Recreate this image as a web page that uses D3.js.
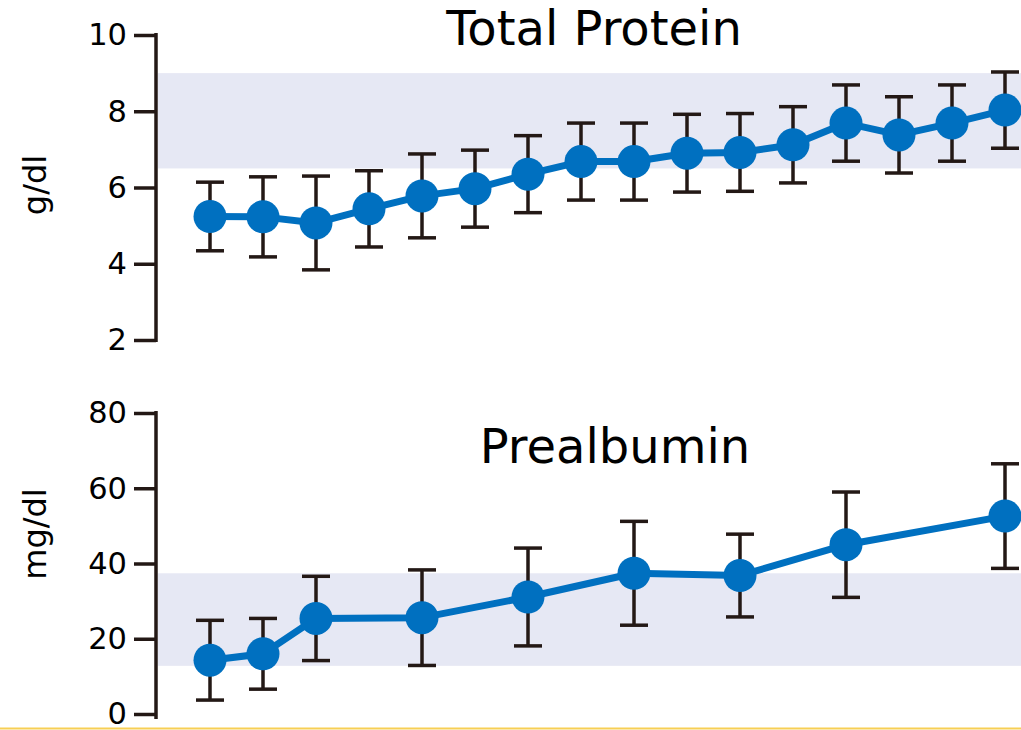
<!DOCTYPE html>
<html>
<head>
<meta charset="utf-8">
<script src="https://cdn.jsdelivr.net/npm/d3@7"></script>
<style>
  html, body { margin: 0; padding: 0; background: #fff; }
  svg { display: block; font-family: "DejaVu Sans", Verdana, sans-serif; }
</style>
</head>
<body>
<svg id="chart" width="1021" height="730"></svg>
<script>
// Measurement time points (shared horizontal slots)
const proteinPoints = [1, 2, 3, 4, 5, 6, 7, 8, 9, 10, 11, 12, 13, 14, 15, 16];
const proteinMean   = [5.24, 5.23, 5.07, 5.44, 5.78, 5.97, 6.35, 6.68, 6.68, 6.9, 6.92, 7.12, 7.69, 7.38, 7.69, 8.03];
const proteinSD     = [0.9, 1.05, 1.23, 1.0, 1.1, 1.01, 1.01, 1.01, 1.01, 1.02, 1.02, 1.0, 1.0, 1.0, 1.0, 1.0];
const proteinRange  = [6.5, 9.0];
const proteinTicks  = [2, 4, 6, 8, 10];

const prealbPoints = [1, 2, 3, 5, 7, 9, 11, 13, 16];
const prealbMean   = [14.3, 16.0, 25.4, 25.6, 31.1, 37.4, 36.8, 45.0, 52.6];
const prealbSD     = [10.6, 9.4, 11.2, 12.7, 13.0, 13.8, 11.0, 14.0, 13.9];
const prealbRange  = [12.8, 37.4];
const prealbTicks  = [0, 20, 40, 60, 80];

const INK = "#231815";
const BLUE = "#0070c0";
const BAND = "#e6e8f4";

const svg = d3.select("#chart");
const W = 1021;

const x = d3.scaleLinear().domain([1, 16]).range([210, 1005]);
const axisX = 156;

function panel(cfg) {
  const g = svg.append("g");
  const y = d3.scaleLinear().domain(cfg.domain).range(cfg.range);

  // reference range band
  g.append("rect")
    .attr("x", axisX + 2)
    .attr("width", W - axisX - 2)
    .attr("y", y(cfg.band[1]))
    .attr("height", y(cfg.band[0]) - y(cfg.band[1]))
    .attr("fill", BAND);

  // y axis
  const axis = d3.axisLeft(y)
    .tickValues(cfg.ticks)
    .tickSize(22)
    .tickSizeOuter(0)
    .tickPadding(7);
  const ag = g.append("g")
    .attr("transform", `translate(${axisX},0)`)
    .call(axis);
  ag.select(".domain").remove();
  ag.selectAll(".tick line").attr("stroke", INK).attr("stroke-width", 3.5);
  ag.selectAll(".tick text")
    .attr("fill", "#000")
    .attr("font-size", 30.5)
    .attr("font-family", "DejaVu Sans, Verdana, sans-serif");
  ag.append("line")
    .attr("x1", 0).attr("x2", 0)
    .attr("y1", y(cfg.domain[1]) - 2)
    .attr("y2", y(cfg.domain[0]) + cfg.axisExtra)
    .attr("stroke", INK)
    .attr("stroke-width", 3.5);

  // unit label
  g.append("text")
    .attr("transform", `translate(${46},${cfg.unitY}) rotate(-90)`)
    .attr("text-anchor", "middle")
    .attr("font-size", 32)
    .attr("fill", "#000")
    .text(cfg.unit);

  // title
  g.append("text")
    .attr("x", cfg.titleX)
    .attr("y", cfg.titleY)
    .attr("text-anchor", "middle")
    .attr("font-size", 48)
    .attr("fill", "#000")
    .text(cfg.title);

  const data = cfg.pts.map((p, i) => ({ p, m: cfg.mean[i], s: cfg.sd[i] }));

  // error bars
  const eb = g.append("g").attr("stroke", INK).attr("stroke-width", 3.5);
  data.forEach(d => {
    const cx = x(d.p), yt = y(d.m + d.s), yb = y(d.m - d.s);
    eb.append("line").attr("x1", cx).attr("x2", cx).attr("y1", yt).attr("y2", yb);
    eb.append("line").attr("x1", cx - 14).attr("x2", cx + 14).attr("y1", yt).attr("y2", yt);
    eb.append("line").attr("x1", cx - 14).attr("x2", cx + 14).attr("y1", yb).attr("y2", yb);
  });

  // mean line
  g.append("path")
    .datum(data)
    .attr("fill", "none")
    .attr("stroke", BLUE)
    .attr("stroke-width", 7)
    .attr("stroke-linejoin", "round")
    .attr("d", d3.line().x(d => x(d.p)).y(d => y(d.m)));

  // markers
  g.selectAll("circle.pt")
    .data(data)
    .join("circle")
    .attr("class", "pt")
    .attr("cx", d => x(d.p))
    .attr("cy", d => y(d.m))
    .attr("r", 16.5)
    .attr("fill", BLUE);
}

panel({
  title: "Total Protein", titleX: 594, titleY: 45,
  unit: "g/dl", unitY: 185,
  domain: [2, 10], range: [340, 35], axisExtra: 2,
  ticks: proteinTicks, band: proteinRange,
  pts: proteinPoints, mean: proteinMean, sd: proteinSD
});

panel({
  title: "Prealbumin", titleX: 615, titleY: 463,
  unit: "mg/dl", unitY: 534,
  domain: [0, 80], range: [714, 413], axisExtra: 5,
  ticks: prealbTicks, band: prealbRange,
  pts: prealbPoints, mean: prealbMean, sd: prealbSD
});

// thin rule along the bottom edge
svg.append("line")
  .attr("x1", 0).attr("x2", W)
  .attr("y1", 728.5).attr("y2", 728.5)
  .attr("stroke", "#f7cf55")
  .attr("stroke-width", 2);
</script>
</body>
</html>
